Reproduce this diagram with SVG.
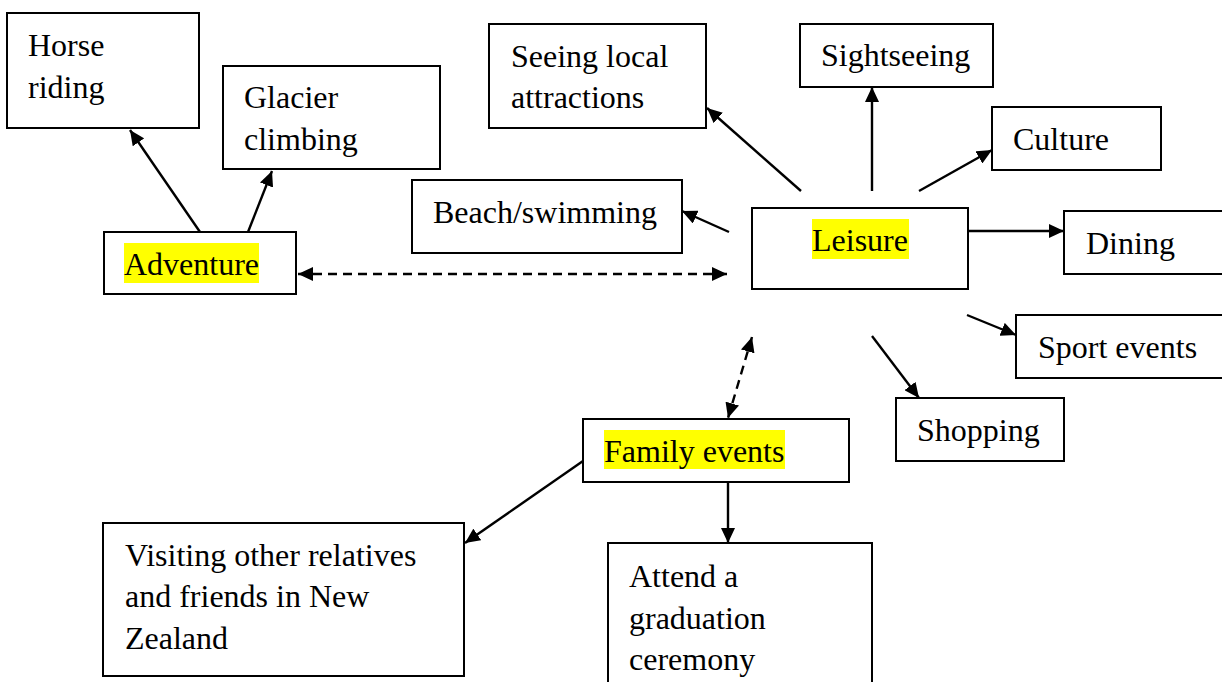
<svg xmlns="http://www.w3.org/2000/svg" width="1222" height="682" viewBox="0 0 1222 682">
  <defs>
    <marker id="head" markerUnits="userSpaceOnUse" markerWidth="16" markerHeight="14" refX="15" refY="7" orient="auto-start-reverse">
      <path d="M0,0 L15,7 L0,14 z" fill="#000"/>
    </marker>
    <style>
      .box { fill: #fff; stroke: #000; stroke-width: 2; }
      .hl { fill: #ffff00; }
      .lbl { font-size: 32px; fill: #000; }
      .link { fill: none; stroke: #000; stroke-width: 2.4; marker-end: url(#head); }
      .dash { stroke-dasharray: 9 6; marker-start: url(#head); }
    </style>
  </defs>
  <rect width="1222" height="682" fill="#fff"/>

  <g font-family="Liberation Serif, Tinos, Times New Roman, DejaVu Serif, serif">
  <g id="horse-riding">
    <rect class="box" x="7" y="13" width="192" height="115"/>
    <text class="lbl" x="28" y="56">Horse</text>
    <text class="lbl" x="28" y="98">riding</text>
  </g>
  <g id="glacier-climbing">
    <rect class="box" x="223" y="66" width="217" height="103"/>
    <text class="lbl" x="244" y="108">Glacier</text>
    <text class="lbl" x="244" y="150">climbing</text>
  </g>
  <g id="adventure">
    <rect class="box" x="104" y="232" width="192" height="62"/>
    <rect class="hl" x="124" y="243" width="135" height="40"/>
    <text class="lbl" x="124" y="275">Adventure</text>
  </g>
  <g id="seeing-local">
    <rect class="box" x="489" y="24" width="217" height="104"/>
    <text class="lbl" x="511" y="67">Seeing local</text>
    <text class="lbl" x="511" y="108">attractions</text>
  </g>
  <g id="beach">
    <rect class="box" x="412" y="180" width="270" height="73"/>
    <text class="lbl" x="433" y="223">Beach/swimming</text>
  </g>
  <g id="sightseeing">
    <rect class="box" x="800" y="24" width="193" height="63"/>
    <text class="lbl" x="821" y="66">Sightseeing</text>
  </g>
  <g id="culture">
    <rect class="box" x="992" y="107" width="169" height="63"/>
    <text class="lbl" x="1013" y="150">Culture</text>
  </g>
  <g id="leisure">
    <rect class="box" x="752" y="208" width="216" height="81"/>
    <rect class="hl" x="812" y="219" width="97" height="40"/>
    <text class="lbl" x="812" y="251">Leisure</text>
  </g>
  <g id="dining">
    <rect class="box" x="1064" y="211" width="160" height="63"/>
    <text class="lbl" x="1086" y="254">Dining</text>
  </g>
  <g id="sport-events">
    <rect class="box" x="1016" y="315" width="208" height="63"/>
    <text class="lbl" x="1038" y="358">Sport events</text>
  </g>
  <g id="shopping">
    <rect class="box" x="896" y="398" width="168" height="63"/>
    <text class="lbl" x="917" y="441">Shopping</text>
  </g>
  <g id="family-events">
    <rect class="box" x="583" y="419" width="266" height="63"/>
    <rect class="hl" x="604" y="430" width="181" height="39"/>
    <text class="lbl" x="604" y="462">Family events</text>
  </g>
  <g id="visiting">
    <rect class="box" x="103" y="523" width="361" height="153"/>
    <text class="lbl" x="125" y="566">Visiting other relatives</text>
    <text class="lbl" x="125" y="607">and friends in New</text>
    <text class="lbl" x="125" y="649">Zealand</text>
  </g>
  <g id="graduation">
    <rect class="box" x="608" y="543" width="264" height="150"/>
    <text class="lbl" x="629" y="587">Attend a</text>
    <text class="lbl" x="629" y="629">graduation</text>
    <text class="lbl" x="629" y="670">ceremony</text>
  </g>
  </g>

  <g id="connectors">
    <line class="link" x1="200" y1="232" x2="130" y2="130"/>
    <line class="link" x1="248" y1="232" x2="272" y2="171"/>
    <line class="link dash" x1="298" y1="274" x2="727" y2="274"/>
    <line class="link" x1="801" y1="191" x2="707" y2="108"/>
    <line class="link" x1="729" y1="232" x2="682" y2="211"/>
    <line class="link" x1="872" y1="191" x2="872" y2="87"/>
    <line class="link" x1="919" y1="191" x2="992" y2="150"/>
    <line class="link" x1="968" y1="231" x2="1064" y2="231"/>
    <line class="link" x1="967" y1="315" x2="1016" y2="335"/>
    <line class="link" x1="872" y1="336" x2="919" y2="398"/>
    <line class="link dash" x1="752" y1="337" x2="728" y2="418"/>
    <line class="link" x1="728" y1="482" x2="728" y2="543"/>
    <line class="link" x1="583" y1="461" x2="465" y2="543"/>
  </g>
</svg>
